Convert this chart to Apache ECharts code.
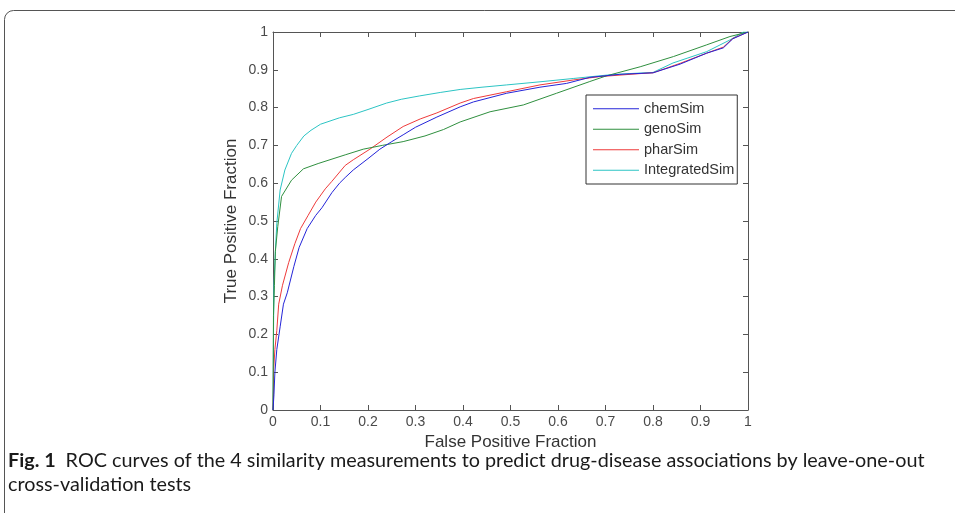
<!DOCTYPE html>
<html>
<head>
<meta charset="utf-8">
<script src="https://cdn.jsdelivr.net/npm/echarts@6/dist/echarts.min.js"></script>
<style>
html,body{margin:0;padding:0;background:#fff;}
#chart{width:955px;height:513px;}
</style>
</head>
<body>
<div id="chart"></div>
<script>
var seriesNames = ['chemSim', 'genoSim', 'pharSim', 'IntegratedSim'];
var xTickLabels = ['0', '0.1', '0.2', '0.3', '0.4', '0.5', '0.6', '0.7', '0.8', '0.9', '1'];
var yTickLabels = ['0', '0.1', '0.2', '0.3', '0.4', '0.5', '0.6', '0.7', '0.8', '0.9', '1'];

var chemSim = [[0,0],[0.002,0.04],[0.004,0.1],[0.008,0.16],[0.015,0.22],[0.022,0.28],[0.03,0.31],[0.044,0.38],[0.055,0.43],[0.072,0.48],[0.09,0.515],[0.103,0.535],[0.124,0.575],[0.14,0.6],[0.152,0.615],[0.169,0.635],[0.2,0.665],[0.225,0.69],[0.25,0.71],[0.274,0.728],[0.3,0.748],[0.345,0.775],[0.394,0.802],[0.422,0.815],[0.492,0.838],[0.562,0.854],[0.618,0.864],[0.667,0.88],[0.73,0.888],[0.8,0.892],[0.857,0.915],[0.913,0.944],[0.948,0.958],[0.968,0.982],[1,1]];
var genoSim = [[0,0],[0.001,0.25],[0.003,0.33],[0.005,0.42],[0.01,0.485],[0.018,0.565],[0.039,0.608],[0.064,0.638],[0.095,0.652],[0.152,0.675],[0.19,0.69],[0.23,0.7],[0.274,0.71],[0.32,0.725],[0.359,0.742],[0.394,0.762],[0.457,0.789],[0.527,0.807],[0.597,0.838],[0.667,0.869],[0.702,0.884],[0.773,0.908],[0.843,0.935],[0.913,0.966],[0.962,0.988],[1,1]];
var pharSim = [[0,0],[0.001,0.06],[0.001,0.1],[0.004,0.16],[0.008,0.21],[0.012,0.28],[0.02,0.33],[0.033,0.39],[0.046,0.44],[0.058,0.48],[0.074,0.515],[0.09,0.55],[0.11,0.585],[0.124,0.605],[0.152,0.647],[0.169,0.662],[0.204,0.69],[0.24,0.722],[0.274,0.75],[0.31,0.77],[0.345,0.786],[0.394,0.812],[0.422,0.824],[0.492,0.842],[0.562,0.86],[0.632,0.873],[0.688,0.882],[0.773,0.89],[0.8,0.892],[0.857,0.917],[0.913,0.944],[0.948,0.96],[0.968,0.983],[1,1]];
var integratedSim = [[0,0],[0.001,0.2],[0.002,0.33],[0.005,0.42],[0.008,0.494],[0.015,0.582],[0.025,0.635],[0.039,0.679],[0.05,0.7],[0.065,0.725],[0.08,0.74],[0.1,0.756],[0.14,0.773],[0.169,0.782],[0.2,0.795],[0.239,0.812],[0.27,0.822],[0.309,0.831],[0.352,0.84],[0.394,0.848],[0.44,0.854],[0.492,0.86],[0.56,0.868],[0.632,0.877],[0.703,0.886],[0.75,0.89],[0.8,0.893],[0.842,0.918],[0.913,0.948],[0.962,0.979],[0.99,1],[1,1]];

var xTitle = 'False Positive Fraction';
var yTitle = 'True Positive Fraction';
var captionBold = 'Fig. 1';
var captionText = 'ROC curves of the 4 similarity measurements to predict drug-disease associations by leave-one-out';
var captionText2 = 'cross-validation tests';

var colors = ['#2424d8', '#2f8f3f', '#ee3a3a', '#2cc4c4'];
var dataList = [chemSim, genoSim, pharSim, integratedSim];

var chart = echarts.init(document.getElementById('chart'));
var axisColor = '#555';
var labelColor = '#4a4a4a';
var fontFam = '"Liberation Sans", Arial, Helvetica, sans-serif';
var capFont = 'Lato, "Open Sans", sans-serif';

function fmt(list) {
  return function (v) {
    var i = Math.round(v * 10);
    return list[i] !== undefined ? list[i] : '';
  };
}

var series = seriesNames.map(function (n, i) {
  return {
    name: n, type: 'line', data: dataList[i], symbol: 'none', showSymbol: false,
    xAxisIndex: 0, yAxisIndex: 0, z: 5 - i,
    lineStyle: { color: colors[i], width: 1 }, itemStyle: { color: colors[i] },
    animation: false
  };
});

function tickCfg() {
  return { show: true, inside: true, length: 5, lineStyle: { color: axisColor, width: 1 } };
}
function lineCfg() {
  return { show: true, onZero: false, lineStyle: { color: axisColor, width: 1 } };
}

chart.setOption({
  animation: false,
  backgroundColor: '#fff',
  grid: { left: 273, top: 32, right: 207, bottom: 103, containLabel: false },
  title: {
    left: 8, top: 449, padding: 0,
    text: '{b|' + captionBold + '}  {n|' + captionText + '}\n{n|' + captionText2 + '}',
    textStyle: {
      fontWeight: 'normal',
      rich: {
        b: { fontFamily: capFont, fontWeight: 'bold', fontSize: 19.8, color: '#1a1a1a', lineHeight: 24 },
        n: { fontFamily: capFont, fontWeight: 'normal', fontSize: 19.8, color: '#1a1a1a', lineHeight: 24 }
      }
    }
  },
  legend: {
    orient: 'vertical', left: 586, top: 95,
    data: seriesNames,
    icon: 'rect',
    itemWidth: 46, itemHeight: 1, itemGap: 3,
    padding: [5, 3, 5, 7],
    borderColor: '#333', borderWidth: 1, backgroundColor: '#fff',
    textStyle: { fontSize: 14.5, color: '#333', fontFamily: fontFam, lineHeight: 17.5 }
  },
  xAxis: [{
    type: 'value', min: 0, max: 1, interval: 0.1, position: 'bottom',
    name: xTitle, nameLocation: 'middle', nameGap: 22,
    nameTextStyle: { fontSize: 17, color: '#333', fontFamily: fontFam },
    axisLine: lineCfg(), axisTick: tickCfg(),
    axisLabel: { formatter: fmt(xTickLabels), fontSize: 14, color: labelColor, margin: 5, fontFamily: fontFam },
    splitLine: { show: false }
  }, {
    type: 'value', min: 0, max: 1, interval: 0.1, position: 'top',
    axisLine: lineCfg(), axisTick: tickCfg(),
    axisLabel: { show: false }, splitLine: { show: false }
  }],
  yAxis: [{
    type: 'value', min: 0, max: 1, interval: 0.1, position: 'left',
    name: yTitle, nameLocation: 'middle', nameGap: 33, nameRotate: 90,
    nameTextStyle: { fontSize: 17, color: '#333', fontFamily: fontFam },
    axisLine: lineCfg(), axisTick: tickCfg(),
    axisLabel: { formatter: fmt(yTickLabels), fontSize: 14, color: labelColor, margin: 5, fontFamily: fontFam },
    splitLine: { show: false }
  }, {
    type: 'value', min: 0, max: 1, interval: 0.1, position: 'right',
    axisLine: lineCfg(), axisTick: tickCfg(),
    axisLabel: { show: false }, splitLine: { show: false }
  }],
  graphic: [{
    type: 'rect', silent: true, z: -1,
    shape: { x: 4.5, y: 10.5, width: 1200, height: 800, r: 9 },
    style: { fill: 'none', stroke: '#555', lineWidth: 1 }
  }],
  series: series
});
</script>
</body>
</html>
